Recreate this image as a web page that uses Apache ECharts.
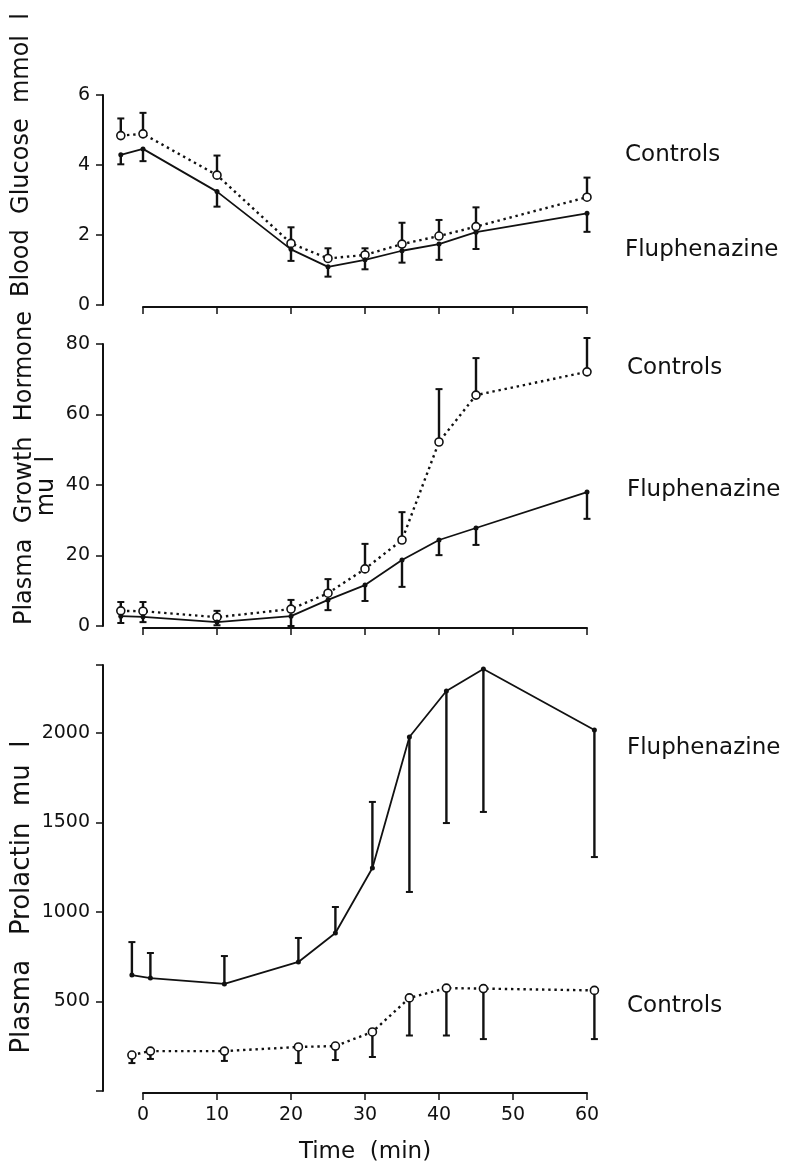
<!DOCTYPE html>
<html>
<head>
<meta charset="utf-8">
<script src="https://cdn.jsdelivr.net/npm/echarts@6/dist/echarts.min.js"></script>
<style>
html,body{margin:0;padding:0;background:#fff;}
#chart{width:794px;height:1169px;}
</style>
</head>
<body>
<div id="chart"></div>
<script>
// ---------- DATA ----------
const timesTop = [-3, 0, 10, 20, 25, 30, 35, 40, 45, 60];
const timesProl = [-1.5, 1, 11, 21, 26, 31, 36, 41, 46, 61];

const glucoseControls    = [4.84, 4.89, 3.71, 1.76, 1.33, 1.43, 1.74, 1.97, 2.24, 3.08];
const glucoseControlsErr = [5.33, 5.49, 4.27, 2.22, 1.62, 1.62, 2.35, 2.43, 2.79, 3.64];
const glucoseFlu         = [4.29, 4.46, 3.24, 1.59, 1.09, 1.29, 1.55, 1.74, 2.08, 2.62];
const glucoseFluErr      = [4.02, 4.11, 2.81, 1.26, 0.81, 1.02, 1.21, 1.29, 1.60, 2.09];

const ghControls    = [4.3, 4.2, 2.5, 4.8, 9.3, 16.2, 24.4, 52.2, 65.5, 72.1];
const ghControlsErr = [6.8, 6.8, 4.3, 7.4, 13.3, 23.3, 32.3, 67.2, 76.0, 81.7];
const ghFlu         = [2.8, 2.6, 1.1, 2.8, 7.4, 11.6, 18.7, 24.4, 27.8, 38.0];
const ghFluErr      = [0.85, 1.1, 0.2, 0.0, 4.5, 7.1, 11.1, 20.1, 23.0, 30.4];

const prlFlu         = [648, 631, 598, 721, 883, 1246, 1978, 2235, 2358, 2017];
const prlFluErr      = [832, 771, 754, 855, 1028, 1615, 1112, 1497, 1559, 1307];
const prlControls    = [201, 223, 223, 246, 251, 330, 520, 575, 572, 562];
const prlControlsErr = [156, 179, 168, 156, 173, 190, 310, 310, 290, 290];

const timeTicks = [0, 10, 20, 30, 40, 50, 60];
const glucoseTicks = [0, 2, 4, 6];
const ghTicks = [0, 20, 40, 60, 80];
const prlTicks = [500, 1000, 1500, 2000];

const yTitles = ['Blood  Glucose  mmol  l', 'Plasma  Growth  Hormone', 'mu  l', 'Plasma   Prolactin  mu  l'];
const groupLabels = ['Controls', 'Fluphenazine'];
const xTitle = 'Time  (min)';

// ---------- LAYOUT ----------
const FONT = 'DejaVu Sans';
const INK = '#111';
const X0 = 143, X60 = 587, YAX = 103;
const PX_PER_MIN = (X60 - X0) / 60;
const XMIN = -(X0 - YAX) / PX_PER_MIN;
const XMAX = 63;

const panels = [
  {top: 95,  bottom: 305, min: 0, max: 6,    interval: 2,   ticks: glucoseTicks},
  {top: 344, bottom: 626, min: 0, max: 80,   interval: 20,  ticks: ghTicks},
  {top: 665, bottom: 1091, min: 0, max: 2380, interval: 500, ticks: prlTicks}
];

const zip = (t, v) => t.map((x, i) => [x, v[i]]);
const zip3 = (t, v, e) => t.map((x, i) => [x, v[i], e[i]]);

const grids = [], xAxes = [], yAxes = [], series = [];
panels.forEach((p, i) => {
  grids.push({left: YAX, top: p.top, width: (XMAX - XMIN) * PX_PER_MIN, height: p.bottom - p.top});
  grids.push({left: X0, top: p.top, width: X60 - X0, height: p.bottom - p.top + 2});
  xAxes.push({gridIndex: 2*i, type: 'value', min: XMIN, max: XMAX, show: false,
    axisLine: {onZero: false}});
  xAxes.push({gridIndex: 2*i+1, type: 'value', min: 0, max: 60, interval: 10,
    axisLine: {show: true, onZero: false, lineStyle: {color: INK, width: 2}},
    axisTick: {show: true, length: 7, lineStyle: {color: INK, width: 1.5}},
    axisLabel: {show: i === 2, color: INK, fontFamily: FONT, fontSize: 19, margin: 13,
      formatter: v => timeTicks.indexOf(v) >= 0 ? String(v) : ''},
    splitLine: {show: false}});
  yAxes.push({gridIndex: 2*i, type: 'value', min: p.min, max: p.max, interval: p.interval,
    axisLine: {show: true, onZero: false, lineStyle: {color: INK, width: 2}},
    axisTick: {show: true, length: 7, lineStyle: {color: INK, width: 1.5}},
    axisLabel: {color: INK, fontFamily: FONT, fontSize: 19, margin: 13,
      formatter: v => p.ticks.indexOf(v) >= 0 ? String(v) : ''},
    splitLine: {show: false}});
  yAxes.push({gridIndex: 2*i+1, type: 'value', min: 0, max: 1, show: false,
    axisLine: {onZero: false}});
});

function errBars(idx, data) {
  return {
    type: 'custom', xAxisIndex: idx, yAxisIndex: idx, z: 1, silent: true, clip: false,
    data: data,
    renderItem: function (params, api) {
      const a = api.coord([api.value(0), api.value(1)]);
      const b = api.coord([api.value(0), api.value(2)]);
      return {type: 'group', children: [
        {type: 'line', shape: {x1: a[0], y1: a[1], x2: b[0], y2: b[1]}, style: {stroke: INK, lineWidth: 2.4}},
        {type: 'line', shape: {x1: b[0]-3.5, y1: b[1], x2: b[0]+3.5, y2: b[1]}, style: {stroke: INK, lineWidth: 2}}
      ]};
    }
  };
}
function ctrlLine(idx, data) {
  return {type: 'line', xAxisIndex: idx, yAxisIndex: idx, z: 3, data: data, clip: false,
    symbol: 'circle', symbolSize: 8, showAllSymbol: true,
    itemStyle: {color: '#fff', borderColor: INK, borderWidth: 1.6},
    lineStyle: {color: INK, width: 2.4, type: [2.4, 3.8]}, animation: false};
}
function fluLine(idx, data) {
  return {type: 'line', xAxisIndex: idx, yAxisIndex: idx, z: 3, data: data, clip: false,
    symbol: 'circle', symbolSize: 5, showAllSymbol: true,
    itemStyle: {color: INK, borderWidth: 0},
    lineStyle: {color: INK, width: 1.8}, animation: false};
}

series.push(errBars(0, zip3(timesTop, glucoseControls, glucoseControlsErr)));
series.push(errBars(0, zip3(timesTop, glucoseFlu, glucoseFluErr)));
series.push(ctrlLine(0, zip(timesTop, glucoseControls)));
series.push(fluLine(0, zip(timesTop, glucoseFlu)));

series.push(errBars(2, zip3(timesTop, ghControls, ghControlsErr)));
series.push(errBars(2, zip3(timesTop, ghFlu, ghFluErr)));
series.push(ctrlLine(2, zip(timesTop, ghControls)));
series.push(fluLine(2, zip(timesTop, ghFlu)));

series.push(errBars(4, zip3(timesProl, prlControls, prlControlsErr)));
series.push(errBars(4, zip3(timesProl, prlFlu, prlFluErr)));
series.push(ctrlLine(4, zip(timesProl, prlControls)));
series.push(fluLine(4, zip(timesProl, prlFlu)));

const txt = (text, x, y, size, rot, align) => ({
  type: 'text', x: x, y: y, rotation: rot || 0, silent: true,
  style: {text: text, fill: INK, font: size + 'px "' + FONT + '"',
    textAlign: align || 'center', textVerticalAlign: 'middle'}
});

const graphics = [
  txt(yTitles[0], 22, 155, 24, Math.PI/2),
  txt(yTitles[1], 25, 468, 24, Math.PI/2),
  txt(yTitles[2], 47, 486, 24, Math.PI/2),
  txt(yTitles[3], 22, 897, 26, Math.PI/2),
  txt(groupLabels[0], 625, 155, 23, 0, 'left'),
  txt(groupLabels[1], 625, 250, 23, 0, 'left'),
  txt(groupLabels[0], 627, 368, 23, 0, 'left'),
  txt(groupLabels[1], 627, 490, 23, 0, 'left'),
  txt(groupLabels[1], 627, 748, 23, 0, 'left'),
  txt(groupLabels[0], 627, 1006, 23, 0, 'left'),
  txt(xTitle, (X0 + X60) / 2, 1152, 23, 0, 'center')
];

const chart = echarts.init(document.getElementById('chart'), null, {renderer: 'canvas'});
chart.setOption({
  backgroundColor: '#fff',
  animation: false,
  grid: grids,
  xAxis: xAxes,
  yAxis: yAxes,
  series: series,
  graphic: graphics
});
</script>
</body>
</html>
